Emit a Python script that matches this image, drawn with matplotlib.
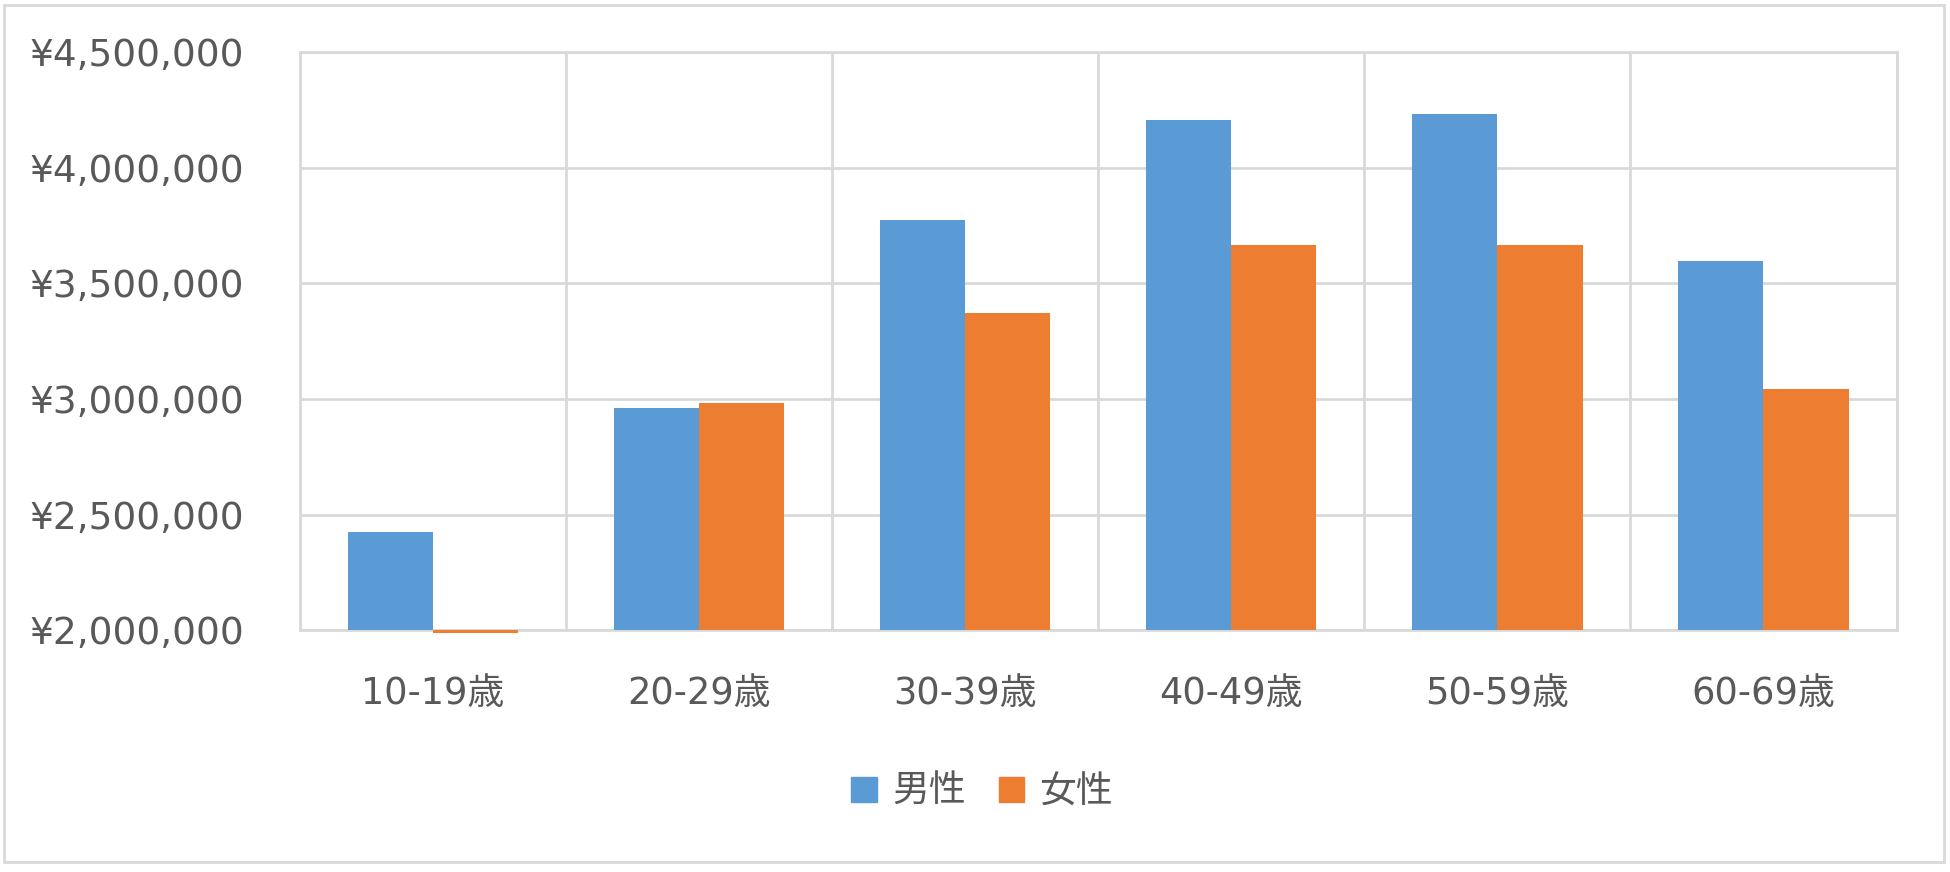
import matplotlib
matplotlib.use("Agg")
import matplotlib.pyplot as plt
from matplotlib.patches import Rectangle, Patch
from matplotlib.ticker import FuncFormatter, FixedLocator
import numpy as np

plt.rcParams['font.family'] = ['DejaVu Sans', 'Noto Sans CJK JP']

categories = ['10-19歳', '20-29歳', '30-39歳', '40-49歳', '50-59歳', '60-69歳']
male = [2425000, 2962000, 3774000, 4204000, 4231000, 3597000]
female = [1990000, 2984000, 3371000, 3667000, 3667000, 3043000]
base = 2000000

blue = '#5B9BD5'
orange = '#ED7D31'
grid = '#D9D9D9'
txt = '#595959'

fig = plt.figure(figsize=(19.5, 8.72), dpi=100)
ax = fig.add_axes([0.1537, 0.2770, 0.9726 - 0.1537, 0.9404 - 0.2770])

x = np.arange(len(categories))
w = 0.32
ax.bar(x - w / 2, np.array(male) - base, w, bottom=base, color=blue, clip_on=False, zorder=3)
ax.bar(x + w / 2, np.array(female) - base, w, bottom=base, color=orange, clip_on=False, zorder=3)

ax.set_xlim(-0.5, len(categories) - 0.5)
ax.set_ylim(2000000, 4500000)
ax.set_yticks(np.arange(2000000, 4500001, 500000))
ax.yaxis.set_major_formatter(FuncFormatter(lambda v, p: '¥{:,.0f}'.format(v)))
ax.set_xticks(x)
ax.set_xticklabels(categories)
ax.xaxis.set_minor_locator(FixedLocator(np.arange(-0.5, len(categories), 1)))

ax.grid(axis='y', which='major', color=grid, linewidth=2, zorder=0)
ax.grid(axis='x', which='minor', color=grid, linewidth=2, zorder=0)
ax.tick_params(axis='both', which='both', length=0, colors=txt, labelsize=26.5)
ax.tick_params(axis='y', labelsize=27, pad=40)
ax.tick_params(axis='x', pad=32)
for s in ax.spines.values():
    s.set_color(grid)
    s.set_linewidth(2)

handles = [Patch(color=blue, label='男性'), Patch(color=orange, label='女性')]
fig.legend(handles=handles, loc='center', bbox_to_anchor=(0.5036, 0.092), ncol=2,
           frameon=False, fontsize=26.5, labelcolor=txt, handlelength=0.7, handleheight=0.7,
           handletextpad=0.4, columnspacing=0.9)

fig.patches.append(Rectangle((0.002, 0.011), 0.995, 0.983, transform=fig.transFigure,
                             fill=False, edgecolor=grid, linewidth=2))

fig.savefig('out.png', dpi=100, facecolor='white')
